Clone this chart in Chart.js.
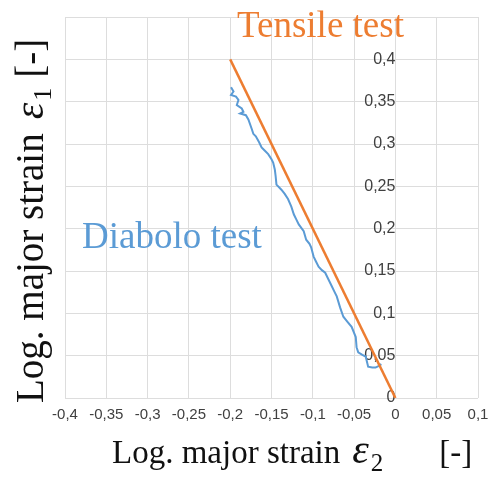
<!DOCTYPE html>
<html>
<head>
<meta charset="utf-8">
<script src="https://cdn.jsdelivr.net/npm/chart.js@4/dist/chart.umd.min.js"></script>
<style>
  html, body { margin: 0; padding: 0; background: #fff; }
  #wrap { width: 498px; height: 479px; }
</style>
</head>
<body>
<div id="wrap"><canvas id="mycanvas" width="498" height="479"></canvas></div>
<script>
// values
var tensileX = [-0.2, 0];
var tensileY = [0.4, 0];

var diaboloX = [-0.199, -0.196, -0.199, -0.193, -0.190, -0.192, -0.186, -0.184, -0.188, -0.181,
    -0.178, -0.174, -0.172, -0.169, -0.165, -0.162, -0.158, -0.154, -0.150, -0.148,
    -0.146, -0.145, -0.144, -0.138, -0.134, -0.130, -0.126, -0.123, -0.120, -0.117,
    -0.111, -0.108, -0.104, -0.102, -0.099, -0.096, -0.093, -0.089, -0.085, -0.081,
    -0.077, -0.074, -0.071, -0.067, -0.063, -0.058, -0.053, -0.048, -0.047, -0.045,
    -0.040, -0.036, -0.033, -0.028, -0.024, -0.020, -0.017];
var diaboloY = [0.367, 0.362, 0.358, 0.356, 0.352, 0.346, 0.342, 0.338, 0.336, 0.334,
    0.329, 0.318, 0.312, 0.309, 0.302, 0.296, 0.292, 0.288, 0.282, 0.278,
    0.270, 0.262, 0.252, 0.246, 0.241, 0.235, 0.226, 0.217, 0.211, 0.205,
    0.197, 0.187, 0.182, 0.178, 0.167, 0.161, 0.155, 0.151, 0.148, 0.140,
    0.132, 0.126, 0.120, 0.107, 0.096, 0.090, 0.084, 0.072, 0.060, 0.054,
    0.051, 0.049, 0.037, 0.036, 0.036, 0.038, 0.040];

var xTicks = [-0.4, -0.35, -0.3, -0.25, -0.2, -0.15, -0.1, -0.05, 0, 0.05, 0.1];
var xTickLabels = ['-0,4', '-0,35', '-0,3', '-0,25', '-0,2', '-0,15', '-0,1', '-0,05', '0', '0,05', '0,1'];
var yTicks = [0, 0.05, 0.1, 0.15, 0.2, 0.25, 0.3, 0.35, 0.4, 0.45];
var yTickLabels = ['0', '0,05', '0,1', '0,15', '0,2', '0,25', '0,3', '0,35', '0,4', ''];

var ORANGE = '#ED7D31';
var BLUE = '#5B9BD5';
var SERIF = '"Liberation Serif", "Times New Roman", serif';

function toPoints(xs, ys)
{
    var pts = [];
    for (var i = 0; i < xs.length; i++) {
        pts.push({ x: xs[i], y: ys[i] });
    }
    return pts;
}

function setTicks(values)
{
    return function (scale)
    {
        scale.ticks = values.map(function (v) { return { value: v }; });
    };
}

function labelFor(values, labels)
{
    return function (value)
    {
        for (var i = 0; i < values.length; i++) {
            if (Math.abs(values[i] - value) < 1e-9) return labels[i];
        }
        return '';
    };
}

// axis title: "Log. major strain" + italic epsilon with subscript + "[-]"
function drawTitle(ctx, x, y, o)
{
    ctx.textAlign = 'left';
    ctx.textBaseline = 'alphabetic';
    ctx.font = o.size + 'px ' + SERIF;
    ctx.fillText('Log. major strain', x, y);
    x += ctx.measureText('Log. major strain').width + o.gap1;
    ctx.font = 'italic ' + o.epsSize + 'px ' + SERIF;
    ctx.fillText('\u03b5', x, y);
    x += ctx.measureText('\u03b5').width + 2;
    ctx.font = o.subSize + 'px ' + SERIF;
    ctx.fillText(o.sub, x, y + o.subDrop);
    x += ctx.measureText(o.sub).width + o.gap2;
    ctx.font = o.size + 'px ' + SERIF;
    ctx.fillText('[-]', x, y);
}

var textPlugin = {
    id: 'texts',
    afterDraw: function (chart)
    {
        var ctx = chart.ctx;
        ctx.save();
        ctx.fillStyle = '#111';
        drawTitle(ctx, 112, 463, { size: 33, epsSize: 42, subSize: 25, subDrop: 8, gap1: 12, gap2: 56, sub: '2' });

        ctx.save();
        ctx.translate(43, 403);
        ctx.rotate(-Math.PI / 2);
        drawTitle(ctx, 0, 0, { size: 39, epsSize: 42, subSize: 26, subDrop: 8, gap1: 14, gap2: 10, sub: '1' });
        ctx.restore();

        ctx.font = '37px ' + SERIF;
        ctx.fillStyle = ORANGE;
        ctx.fillText('Tensile test', 237, 37);
        ctx.fillStyle = BLUE;
        ctx.fillText('Diabolo test', 82, 248);
        ctx.restore();
    }
};

var allCharts = [];

function CreateGraph()
{
    var ctx = document.getElementById('mycanvas');
    var chart = new Chart(ctx, {
        type: 'scatter',
        data: {
            datasets: [
                {
                    label: 'Tensile test',
                    data: toPoints(tensileX, tensileY),
                    showLine: true,
                    borderColor: ORANGE,
                    backgroundColor: ORANGE,
                    borderWidth: 2.5,
                    pointRadius: 0
                },
                {
                    label: 'Diabolo test',
                    data: toPoints(diaboloX, diaboloY),
                    showLine: true,
                    borderColor: BLUE,
                    backgroundColor: BLUE,
                    borderWidth: 2,
                    pointRadius: 0
                }
            ]
        },
        options: {
            responsive: false,
            animation: false,
            layout: { padding: { left: 65, right: 20, top: 17, bottom: 47 } },
            plugins: {
                legend: { display: false },
                tooltip: { enabled: false }
            },
            scales: {
                x: {
                    type: 'linear',
                    min: -0.4,
                    max: 0.1,
                    afterBuildTicks: setTicks(xTicks),
                    grid: { color: '#dddddd', drawTicks: false },
                    border: { display: false },
                    ticks: {
                        autoSkip: false,
                        maxRotation: 0,
                        padding: 8,
                        color: '#404040',
                        font: { family: '"Liberation Sans", Arial, sans-serif', size: 15 },
                        callback: labelFor(xTicks, xTickLabels)
                    }
                },
                y: {
                    type: 'linear',
                    position: { x: 0 },
                    min: 0,
                    max: 0.45,
                    afterBuildTicks: setTicks(yTicks),
                    // the axis sits inside the plot, so it should not push the plot area down
                    afterFit: function (scale)
                    {
                        scale.paddingTop = 0;
                        scale.paddingBottom = 0;
                    },
                    grid: { color: '#dddddd', drawTicks: false },
                    border: { display: false },
                    ticks: {
                        padding: 17,
                        color: '#404040',
                        font: { family: '"Liberation Sans", Arial, sans-serif', size: 16 },
                        callback: labelFor(yTicks, yTickLabels)
                    }
                }
            }
        },
        plugins: [textPlugin]
    });
    allCharts.push(chart);
}

CreateGraph();
</script>
</body>
</html>
